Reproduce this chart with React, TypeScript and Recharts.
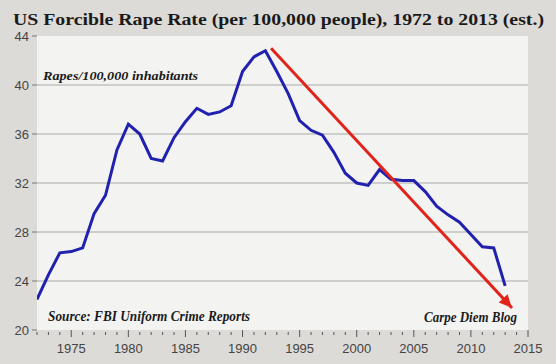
import React from 'react';
import { LineChart, Line, XAxis, YAxis, CartesianGrid, ReferenceLine } from 'recharts';

const years = [
  1972, 1973, 1974, 1975, 1976, 1977, 1978, 1979, 1980, 1981,
  1982, 1983, 1984, 1985, 1986, 1987, 1988, 1989, 1990, 1991,
  1992, 1993, 1994, 1995, 1996, 1997, 1998, 1999, 2000, 2001,
  2002, 2003, 2004, 2005, 2006, 2007, 2008, 2009, 2010, 2011,
  2012, 2013,
];
const rates = [
  22.5, 24.5, 26.3, 26.4, 26.7, 29.5, 31.0, 34.7, 36.8, 36.0,
  34.0, 33.8, 35.7, 37.0, 38.1, 37.6, 37.8, 38.3, 41.1, 42.3,
  42.8, 41.1, 39.3, 37.1, 36.3, 35.9, 34.5, 32.8, 32.0, 31.8,
  33.1, 32.3, 32.2, 32.2, 31.3, 30.1, 29.4, 28.8, 27.8, 26.8,
  26.7, 23.6,
];
const trendYears = [1992.5, 2013.6];
const trendValues = [43.0, 21.8];
const xTicks = Array.from({ length: 44 }, (_, i) => 1972 + i);
const yTicks = [20, 24, 28, 32, 36, 40, 44];
const gridValues = [24, 28, 32, 36, 40];

const title = 'US Forcible Rape Rate (per 100,000 people), 1972 to 2013 (est.)';
const yNote = 'Rapes/100,000 inhabitants';
const sourceNote = 'Source: FBI Uniform Crime Reports';
const blogNote = 'Carpe Diem Blog';

const rateData = years.map((y, i) => ({ year: y, rate: rates[i] }));
const trendData = trendYears.map((y, i) => ({ year: y, trend: trendValues[i] }));

const XTick = (props: any) => {
  const { x, y, payload } = props;
  const v = payload.value;
  const major = v % 5 === 0;
  return (
    <g>
      <line x1={x} x2={x} y1={y + (major ? 0 : 2)} y2={y + (major ? 7 : 5)} stroke="#555" strokeWidth={1} />
      {major && v !== 1972 ? (
        <text x={x} y={y + 23} textAnchor="middle" fill="#444" fontSize={13} fontFamily="Liberation Sans, Arial, sans-serif">
          {v}
        </text>
      ) : null}
    </g>
  );
};

const ArrowDot = (props: any) => {
  const { cx, cy, index, points } = props;
  if (index !== 1) return <g key={`d${index}`} />;
  let ang = Math.atan2(260, 240);
  if (points && points[0]) ang = Math.atan2(cy - points[0].y, cx - points[0].x);
  const L = 13;
  const W = 6;
  const bx = cx - L * Math.cos(ang);
  const by = cy - L * Math.sin(ang);
  const px = -Math.sin(ang) * W;
  const py = Math.cos(ang) * W;
  return (
    <polygon
      key={`d${index}`}
      points={`${cx},${cy} ${bx + px},${by + py} ${bx - px},${by - py}`}
      fill="#e0241c"
    />
  );
};

export default function App() {
  return (
    <div style={{ position: 'absolute', left: 0, top: 0, width: 556, height: 364, background: '#dddbd8' }}>
      <LineChart width={556} height={364} margin={{ top: 36, right: 28, left: 0, bottom: 0 }}>
        <CartesianGrid horizontal={false} vertical={false} fill="#f3f3f1" />
        <XAxis
          type="number"
          dataKey="year"
          domain={[1972, 2015]}
          ticks={xTicks}
          interval={0}
          height={34}
          tickSize={0}
          tickMargin={0}
          tickLine={false}
          axisLine={false}
          tick={<XTick />}
          allowDataOverflow
        />
        <YAxis
          type="number"
          domain={[20, 44]}
          ticks={yTicks}
          interval={0}
          width={37}
          tickSize={5}
          tickMargin={3}
          axisLine={false}
          tickLine={{ stroke: '#777' }}
          tick={{ fill: '#444', fontSize: 13, fontFamily: 'Liberation Sans, Arial, sans-serif' }}
        />
        {gridValues.map((g) => (
          <ReferenceLine key={g} y={g} stroke="#a9a9a9" strokeWidth={1} />
        ))}
        <Line
          data={rateData}
          dataKey="rate"
          type="linear"
          stroke="#2121b0"
          strokeWidth={3}
          dot={false}
          isAnimationActive={false}
        />
        <Line
          data={trendData}
          dataKey="trend"
          type="linear"
          stroke="#e0241c"
          strokeWidth={3}
          dot={<ArrowDot />}
          activeDot={false}
          isAnimationActive={false}
        />
      </LineChart>
      <svg width={556} height={364} style={{ position: 'absolute', left: 0, top: 0, pointerEvents: 'none' }}>
        <text x={13} y={25} fontFamily="Liberation Serif, serif" fontWeight="bold" fontSize={16} fill="#1a1a1a" textLength={531} lengthAdjust="spacingAndGlyphs">
          {title}
        </text>
        <text x={43} y={80} fontFamily="Liberation Serif, serif" fontWeight="bold" fontStyle="italic" fontSize={13} fill="#1a1a1a" textLength={155} lengthAdjust="spacingAndGlyphs">
          {yNote}
        </text>
        <text x={48} y={321} fontFamily="Liberation Serif, serif" fontWeight="bold" fontStyle="italic" fontSize={14} fill="#1a1a1a" textLength={202} lengthAdjust="spacingAndGlyphs">
          {sourceNote}
        </text>
        <text x={424} y={322} fontFamily="Liberation Serif, serif" fontWeight="bold" fontStyle="italic" fontSize={14} fill="#1a1a1a" textLength={93} lengthAdjust="spacingAndGlyphs">
          {blogNote}
        </text>
      </svg>
    </div>
  );
}
